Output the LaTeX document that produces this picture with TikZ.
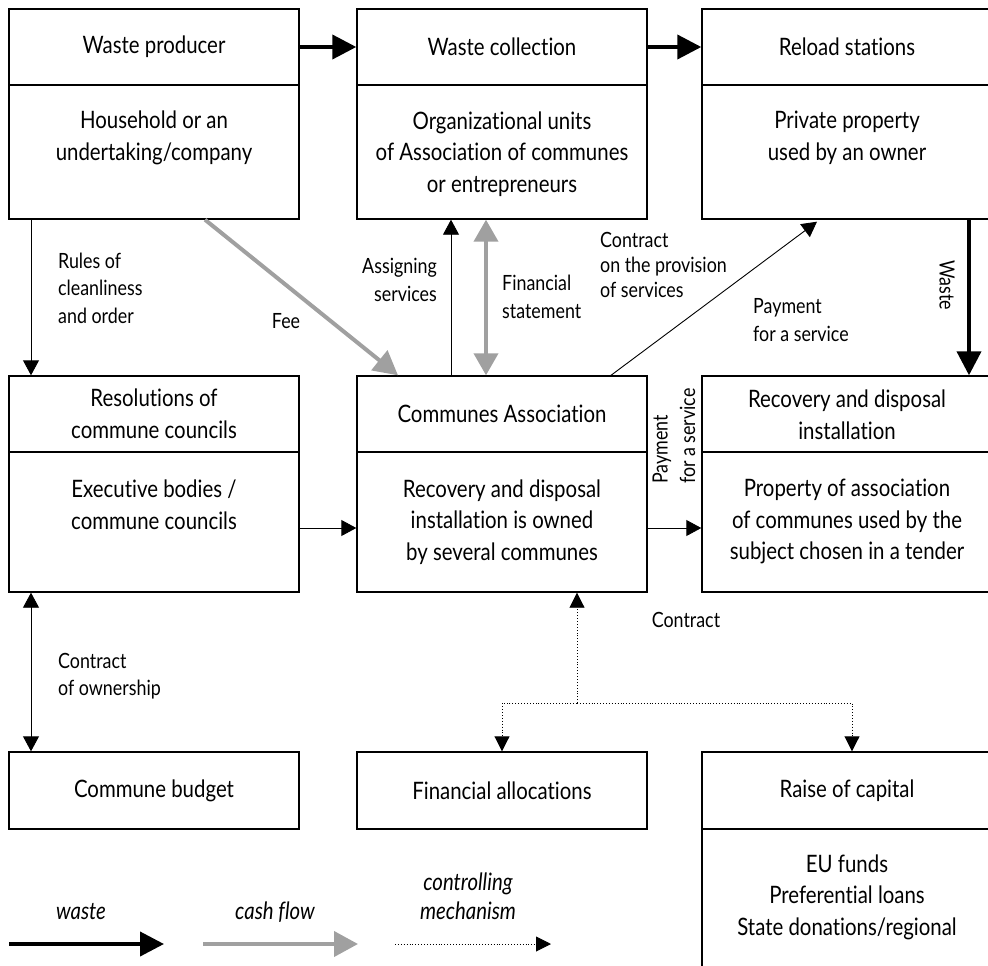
\documentclass[tikz,border=0pt]{standalone}
\usepackage{fontspec}
\setmainfont{Lato}[FakeStretch=0.85, Ligatures=NoCommon]
\usetikzlibrary{arrows.meta,calc}
\definecolor{cash}{RGB}{160,160,160}
\begin{document}
\begin{tikzpicture}[x=1pt,y=-1pt,
  box/.style={draw, line width=1.4pt, minimum width=290pt, inner sep=0pt},
  txt/.style={align=center, font=\fontsize{24}{31.5}\selectfont, inner sep=0pt},
  lbl/.style={font=\fontsize{21}{27.5}\selectfont, inner sep=0pt},
  ital/.style={inner sep=0pt, font=\fontsize{24}{29}\selectfont\itshape},
  wastearr/.style={line width=4pt, -{Triangle[length=24pt,width=24pt]}},
  casharr/.style={draw=cash, line width=4pt, -{Triangle[length=24pt,width=25pt]}, color=cash},
  thinarr/.style={line width=0.9pt, -{Triangle[length=15pt,width=16pt]}},
  ctrl/.style={line width=0.9pt, dotted},
  ctrlarr/.style={ctrl, -{Triangle[length=15pt,width=15pt]}}
]
\useasboundingbox (0,0) rectangle (988,966);
\clip (0,0) rectangle (988,966);
% row 1
\node[box, minimum height=76pt] (wpt) at (154,47) {};
\node[box, minimum height=134pt] (wpb) at (154,152) {};
\node[box, minimum height=76pt] (wct) at (502,47) {};
\node[box, minimum height=134pt] (wcb) at (502,152) {};
\node[box, minimum height=76pt] (rst) at (847,47) {};
\node[box, minimum height=134pt] (rsb) at (847,152) {};
% row 2
\node[box, minimum height=76pt] (rct) at (154,414) {};
\node[box, minimum height=140pt] (rcb) at (154,522) {};
\node[box, minimum height=76pt] (cat) at (502,414) {};
\node[box, minimum height=140pt] (cab) at (502,522) {};
\node[box, minimum height=76pt] (rdt) at (847,414) {};
\node[box, minimum height=140pt] (rdb) at (847,522) {};
% row 3
\node[box, minimum height=77pt] (cb) at (154,790.5) {};
\node[box, minimum height=77pt] (fa) at (502,790.5) {};
\node[box, minimum height=77pt] (rkt) at (847,790.5) {};
\node[box, minimum height=180pt] (rkb) at (847,919) {};
% texts
\node[txt] (t1) at (154,47) {Waste producer};
\node[txt] (t2) at (154,138) {Household or an\\undertaking/company};
\node[txt] (t3) at (502,47) {Waste collection};
\node[txt] (t4) at (502,154) {Organizational units\\of Association of communes\\or entrepreneurs};
\node[txt] (t5) at (847,47) {Reload stations};
\node[txt] (t6) at (847,138) {Private property\\used by an owner};
\node[txt] (t7) at (154,414) {Resolutions of\\commune councils};
\node[txt] (t8) at (154,505) {Executive bodies /\\commune councils};
\node[txt] (t9) at (502,414) {Communes Association};
\node[txt] (t10) at (502,522) {Recovery and disposal\\installation is owned\\by several communes};
\node[txt] (t11) at (847,415) {Recovery and disposal\\installation};
\node[txt] (t12) at (847,521.5) {Property of association\\of communes used by the\\subject chosen in a tender};
\node[txt] (t13) at (154,790.5) {Commune budget};
\node[txt] (t14) at (502,790.5) {Financial allocations};
\node[txt] (t15) at (847,790.5) {Raise of capital};
\node[txt] (t16) at (847,897) {EU funds\\Preferential loans\\State donations/regional};
% helper coordinates
\coordinate (x31) at (31,0);
\coordinate (x451) at (451,0);
\coordinate (x486) at (486,0);
\coordinate (x969) at (969,0);
\coordinate (y528) at (0,528);
\coordinate (j) at (577,703);
\coordinate (x852) at (852,0);
% waste flow
\draw[wastearr] (wpt.east) -- (wct.west);
\draw[wastearr] (wct.east) -- (rst.west);
\draw[wastearr] (rsb.south -| x969) -- (rdt.north -| x969);
\node[lbl, rotate=-90] (lw) at (947,285) {Waste};
% rules
\draw[thinarr] (wpb.south -| x31) -- (rct.north -| x31);
\node[lbl, anchor=west, align=left] (lr) at (58,288) {Rules of\\cleanliness\\and order};
% fee
\draw[casharr] ($(wpb.south)+(51,0)$) -- ($(cat.north)+(-104,0)$);
\node[lbl] (lf) at (286,321) {Fee};
% assigning
\draw[thinarr] (cat.north -| x451) -- (wcb.south -| x451);
\node[lbl, anchor=east, align=right] (la) at (437,280) {Assigning\\services};
% financial statement
\draw[draw=cash, line width=4pt, {Triangle[length=22pt,width=24pt]}-{Triangle[length=22pt,width=24pt]}, color=cash] (cat.north -| x486) -- (wcb.south -| x486);
\node[lbl, anchor=west, align=left] (lfs) at (502,297) {Financial\\statement};
% contract provision
\draw[thinarr] ($(cat.north)+(109,0)$) -- ($(rsb.south)+(-30,2)$);
\node[lbl, anchor=west, align=left, font=\fontsize{21}{25}\selectfont] (lc) at (600,265) {Contract\\on the provision\\of services};
\node[lbl, anchor=west, align=left] (lp) at (753,320) {Payment\\for a service};
% row 2 horizontals
\draw[thinarr] (rcb.east |- y528) -- (cab.west |- y528);
\draw[thinarr] (cab.east |- y528) -- (rdb.west |- y528);
\node[lbl, rotate=90, align=left] (lp2) at (674,436) {Payment\\for a service};
\node[lbl] (lct) at (686,620) {Contract};
% ownership
\draw[line width=0.9pt, {Triangle[length=15pt,width=16pt]}-{Triangle[length=15pt,width=16pt]}] (rcb.south -| x31) -- (cb.north -| x31);
\node[lbl, anchor=west, align=left] (lo) at (58,676) {Contract\\of ownership};
% controlling
\draw[ctrlarr] (j) -- (cab.south -| j);
\draw[ctrlarr] (j) -| (fa.north);
\draw[ctrlarr] (j) -| (rkt.north -| x852);
% legend
\coordinate (l1a) at (9,944); \coordinate (l1b) at (164,944);
\coordinate (l2a) at (203,944); \coordinate (l2b) at (358,944);
\coordinate (l3a) at (395,944); \coordinate (l3b) at (551,944);
\draw[wastearr] (l1a) -- (l1b);
\draw[casharr] (l2a) -- (l2b);
\draw[ctrlarr] (l3a) -- (l3b);
\node[ital] (g1) at (81,912) {waste};
\node[ital] (g2) at (275,912) {cash flow};
\node[ital, align=center] (g3) at (468,896) {controlling\\mechanism};
\end{tikzpicture}
\end{document}
